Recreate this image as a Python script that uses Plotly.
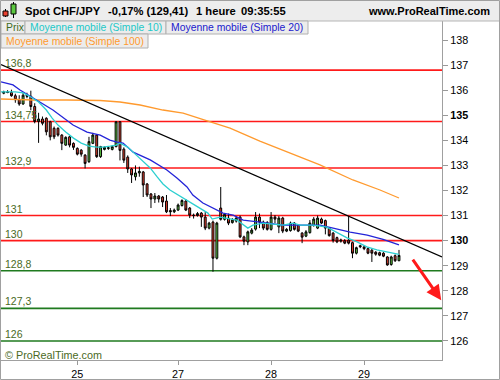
import plotly.graph_objects as go

# ---------------- data (hourly candles) ----------------
opens = [135.88, 135.93, 135.91, 135.78, 135.62, 135.45, 135.80, 135.76, 135.35, 134.75,
         134.85, 134.88, 134.74, 134.48, 134.48, 134.21, 133.81, 134.14, 133.88, 133.68,
         133.61, 133.41, 133.15, 133.88, 134.21, 133.35, 133.64, 133.68, 133.64, 133.75,
         134.74, 133.65, 133.33, 132.86, 132.55, 132.70, 132.74, 132.26, 131.86, 131.66,
         131.78, 131.74, 131.58, 131.20, 131.15, 131.22, 131.40, 131.58, 131.30, 131.02,
         131.00, 131.10, 130.94, 130.50, 130.74, 129.30, 131.30, 130.85, 130.90, 130.72,
         130.78, 130.94, 130.15, 129.95, 130.30, 130.46, 130.94, 130.74, 130.72, 130.45,
         130.94, 130.55, 130.90, 130.38, 130.40, 130.70, 130.62, 130.30, 130.18, 130.32,
         130.60, 130.50, 130.86, 130.80, 130.50, 130.30, 130.12, 129.98, 130.00, 130.02,
         129.92, 129.50, 129.80, 129.75, 129.68, 129.62, 129.54, 129.52, 129.50, 129.35,
         129.05, 129.40, 129.20]
highs = [135.98, 136.00, 136.02, 135.86, 135.80, 135.92, 135.90, 135.98, 135.48, 135.10,
         134.95, 134.92, 134.78, 134.55, 134.52, 134.25, 134.16, 134.18, 133.92, 133.72,
         133.65, 133.45, 134.14, 134.30, 134.25, 133.78, 133.76, 133.74, 133.80, 134.76,
         134.76, 133.72, 133.40, 132.90, 133.00, 132.95, 132.78, 132.30, 131.90, 131.90,
         131.82, 131.78, 131.82, 131.30, 131.28, 131.48, 131.65, 131.66, 131.34, 131.08,
         131.14, 131.14, 131.14, 130.75, 130.80, 130.75, 132.14, 131.10, 131.08, 130.90,
         130.98, 131.00, 130.20, 130.40, 130.50, 131.14, 131.08, 130.80, 130.78, 131.14,
         131.02, 130.98, 130.95, 130.50, 130.76, 130.74, 130.66, 130.34, 130.42, 130.82,
         130.94, 131.00, 130.92, 130.84, 130.54, 130.34, 130.16, 130.08, 130.06, 130.98,
         129.96, 129.76, 129.84, 129.80, 129.72, 129.66, 129.58, 129.56, 129.54, 129.38,
         129.40, 129.45, 129.63]
lows = [135.84, 135.88, 135.74, 135.50, 135.38, 135.42, 135.68, 135.20, 134.68, 133.90,
        134.60, 134.20, 134.00, 134.05, 134.15, 133.61, 133.78, 133.72, 133.62, 133.40,
        133.35, 132.88, 133.10, 133.85, 133.30, 133.30, 133.60, 133.62, 133.60, 133.72,
        133.20, 133.10, 132.70, 132.30, 132.40, 132.55, 131.74, 131.74, 131.30, 131.50,
        131.52, 131.34, 131.10, 130.98, 131.10, 131.18, 131.36, 131.18, 130.90, 130.88,
        130.96, 130.55, 130.42, 130.45, 128.76, 129.25, 130.80, 130.80, 130.62, 130.68,
        130.72, 130.10, 129.82, 129.82, 130.25, 130.40, 130.50, 130.42, 130.40, 130.40,
        130.70, 130.30, 130.30, 130.34, 130.36, 130.40, 130.34, 129.90, 130.14, 130.28,
        130.56, 130.46, 130.66, 130.25, 130.16, 129.92, 129.90, 129.92, 129.86, 129.85,
        129.30, 129.45, 129.70, 129.62, 129.46, 129.15, 129.40, 129.38, 129.34, 129.00,
        129.00, 129.15, 129.18]
closes = [135.93, 135.91, 135.78, 135.62, 135.45, 135.80, 135.76, 135.35, 134.75, 134.85,
          134.68, 134.34, 134.14, 134.14, 134.21, 133.88, 134.12, 133.81, 133.72, 133.45,
          133.45, 133.08, 133.95, 134.21, 133.35, 133.75, 133.72, 133.70, 133.75, 134.74,
          133.60, 133.21, 132.86, 132.62, 132.70, 132.76, 132.22, 131.82, 131.66, 131.78,
          131.66, 131.54, 131.15, 131.15, 131.22, 131.42, 131.60, 131.22, 131.02, 131.00,
          131.08, 130.94, 130.50, 130.70, 129.30, 130.70, 130.85, 131.05, 130.70, 130.82,
          130.90, 130.15, 129.98, 130.35, 130.42, 130.94, 130.74, 130.50, 130.45, 130.94,
          130.86, 130.90, 130.38, 130.45, 130.70, 130.45, 130.38, 130.14, 130.35, 130.70,
          130.86, 130.90, 130.70, 130.50, 130.20, 130.00, 129.95, 130.02, 129.90, 129.90,
          129.50, 129.72, 129.76, 129.68, 129.50, 129.50, 129.46, 129.42, 129.38, 129.03,
          129.35, 129.20, 129.41]
bars = list(range(len(closes)))

# moving averages (bar position, price)
sma10_x = [-0.7, 3, 5, 7, 9, 11, 12.5, 14, 16, 18, 20, 22, 24, 25.5, 27.5, 29, 30, 32, 33.4,
           35.2, 37.8, 39.6, 41.1, 42.9, 45.5, 48.1, 50.7, 52.7, 53.8, 55.8, 60.2, 63, 64.3,
           66.9, 72.1, 74.7, 76.5, 79.8, 83.4, 86, 88.6, 91.2, 93.7, 96.3, 98.9, 101, 102]
sma10_y = [135.93, 135.93, 135.89, 135.73, 135.53, 135.21, 134.89, 134.61, 134.33, 134.09,
           133.89, 133.77, 133.73, 133.73, 133.77, 133.81, 133.89, 133.73, 133.53, 133.26,
           132.90, 132.54, 132.26, 132.02, 131.78, 131.54, 131.30, 131.10, 130.86, 130.94,
           130.82, 130.50, 130.62, 130.70, 130.62, 130.70, 130.62, 130.62, 130.54, 130.34,
           130.11, 129.95, 129.75, 129.63, 129.55, 129.48, 129.45]
sma20_x = [-0.7, 2.4, 4.2, 7.6, 12.7, 17.9, 21.5, 24.9, 27.4, 29.2, 30.8, 33.4, 37.8, 42.1,
           44.7, 47.3, 48.8, 51.4, 54, 56.6, 59.2, 61.8, 66.1, 72.1, 76.5, 81.6, 85, 89.4,
           93.8, 97.9, 102]
sma20_y = [136.33, 136.21, 136.01, 135.69, 135.21, 134.61, 134.33, 134.21, 134.01, 133.93,
           133.89, 133.53, 133.22, 132.82, 132.50, 132.14, 131.82, 131.50, 131.30, 131.10,
           131.02, 130.82, 130.74, 130.62, 130.62, 130.62, 130.50, 130.34, 130.22, 130.05,
           129.83]
sma100_x = [-0.7, 7.6, 16.3, 24.9, 30, 35.2, 41.1, 46.3, 51.9, 58.4, 66.1, 73.9, 81.6,
            90.1, 97.1, 102]
sma100_y = [135.65, 135.61, 135.61, 135.59, 135.53, 135.41, 135.21, 135.09, 134.81, 134.49,
            133.97, 133.49, 133.02, 132.42, 132.02, 131.70]

trend_x = [-0.7, 113.1]
trend_y = [137.02, 129.35]

levels = [136.8, 134.75, 132.9, 131, 130, 128.8, 127.3, 126]
level_labels = ["136,8", "134,75", "132,9", "131", "130", "128,8", "127,3", "126"]
level_kinds = ["r", "r", "r", "r", "r", "g", "g", "g"]

y_ticks = [126, 127, 128, 129, 130, 131, 132, 133, 134, 135, 136, 137, 138]
y_tick_text = ["126", "127", "128", "129", "<b>130</b>", "131", "132", "133", "134",
               "<b>135</b>", "136", "137", "138"]
x_tick_pos = [19, 45, 69, 93]
x_tick_labels = ["25", "27", "28", "29"]

arrow_tail = (105.3, 129.3)
arrow_head = (112.9, 127.62)

# ---------------- styles ----------------
FONT = "Liberation Sans, Arial, sans-serif"
RED = "#ff1a1a"
GREEN_LINE = "#1f7a1f"
LABEL_GREEN = "#4a6a24"
W, H = 500, 380
L, R, T, B = 1, 58, 21, 20
PW, PH = W - L - R, H - T - B


def PX(px):
    return (px - L) / PW


def PY(py):
    return (H - B - py) / PH


fig = go.Figure()

fig.add_trace(go.Candlestick(
    x=bars, open=opens, high=highs, low=lows, close=closes,
    increasing=dict(fillcolor="#5cc840", line=dict(color="black", width=1)),
    decreasing=dict(fillcolor="#e8402f", line=dict(color="black", width=1)),
    whiskerwidth=0, hoverinfo="skip", showlegend=False))

fig.add_trace(go.Scatter(x=sma100_x, y=sma100_y, mode="lines",
                         line=dict(color="#ff9a2e", width=1.3), showlegend=False, hoverinfo="skip"))
fig.add_trace(go.Scatter(x=sma20_x, y=sma20_y, mode="lines",
                         line=dict(color="#2424d8", width=1.3), showlegend=False, hoverinfo="skip"))
fig.add_trace(go.Scatter(x=sma10_x, y=sma10_y, mode="lines",
                         line=dict(color="#2ccfd0", width=1.3), showlegend=False, hoverinfo="skip"))
fig.add_trace(go.Scatter(x=trend_x, y=trend_y, mode="lines",
                         line=dict(color="black", width=1.3), showlegend=False, hoverinfo="skip"))

shapes = []
annotations = []

# horizontal levels
for lv, lab, kind in zip(levels, level_labels, level_kinds):
    shapes.append(dict(type="line", xref="paper", yref="y", x0=0, x1=1, y0=lv, y1=lv,
                       line=dict(color=RED if kind == "r" else GREEN_LINE, width=1.6),
                       layer="below"))
    annotations.append(dict(xref="paper", yref="y", x=PX(3), y=lv, text=lab,
                            xanchor="left", yanchor="bottom", showarrow=False, yshift=-1,
                            font=dict(family=FONT, size=10.5, color=LABEL_GREEN)))

# header band
shapes.append(dict(type="rect", xref="paper", yref="paper", x0=PX(0), x1=PX(500),
                   y0=PY(21), y1=PY(0), fillcolor="#ededed", line=dict(width=0), layer="above"))
shapes.append(dict(type="line", xref="paper", yref="paper", x0=PX(0), x1=PX(500),
                   y0=PY(21), y1=PY(21), line=dict(color="#b5b5b5", width=1)))
# candle icon
shapes += [
    dict(type="line", xref="paper", yref="paper", x0=PX(5.5), x1=PX(5.5), y0=PY(17), y1=PY(9),
         line=dict(color="black", width=1)),
    dict(type="rect", xref="paper", yref="paper", x0=PX(3), x1=PX(8), y0=PY(16), y1=PY(11),
         fillcolor="#e8402f", line=dict(color="black", width=1)),
    dict(type="line", xref="paper", yref="paper", x0=PX(13.5), x1=PX(13.5), y0=PY(18), y1=PY(2),
         line=dict(color="black", width=1)),
    dict(type="rect", xref="paper", yref="paper", x0=PX(11), x1=PX(16), y0=PY(14), y1=PY(4),
         fillcolor="#5cc840", line=dict(color="black", width=1)),
]
header_parts = [(23, "Spot CHF/JPY"), (106, "-0,17% (129,41)"), (194, "1 heure"), (239, "09:35:55")]
for xp, txt in header_parts:
    annotations.append(dict(xref="paper", yref="paper", x=PX(xp), y=PY(10.5), text="<b>%s</b>" % txt,
                            xanchor="left", yanchor="middle", showarrow=False,
                            font=dict(family=FONT, size=11.2, color="black")))
annotations.append(dict(xref="paper", yref="paper", x=PX(492), y=PY(10.5),
                        text="<b>www.ProRealTime.com</b>", xanchor="right", yanchor="middle",
                        showarrow=False, font=dict(family=FONT, size=11, color="black")))

# legend boxes
legend_boxes = [(1, 25, 21, 34, "Prix", "#3d6b1c"),
                (25, 166, 21, 34, "Moyenne mobile (Simple 10)", "#22c8c8"),
                (166, 308, 21, 34, "Moyenne mobile (Simple 20)", "#2020cc"),
                (1, 148, 34, 48, "Moyenne mobile (Simple 100)", "#ff9a2e")]
for x0, x1, y0, y1, txt, col in legend_boxes:
    shapes.append(dict(type="rect", xref="paper", yref="paper", x0=PX(x0), x1=PX(x1),
                       y0=PY(y1), y1=PY(y0), fillcolor="#ececec",
                       line=dict(color="#b0b0b0", width=1), layer="above"))
    annotations.append(dict(xref="paper", yref="paper", x=PX(x0 + 2.5), y=PY((y0 + y1) / 2 + 0.5),
                            text=txt, xanchor="left", yanchor="middle", showarrow=False,
                            font=dict(family=FONT, size=10.4, color=col)))

# copyright
annotations.append(dict(xref="paper", yref="paper", x=PX(3), y=PY(355), text="© ProRealTime.com",
                        xanchor="left", yanchor="middle", showarrow=False,
                        font=dict(family=FONT, size=10.8, color=LABEL_GREEN)))

# red arrow
annotations.append(dict(x=arrow_head[0], y=arrow_head[1], ax=arrow_tail[0], ay=arrow_tail[1],
                        xref="x", yref="y", axref="x", ayref="y", showarrow=True, text="",
                        arrowhead=2, arrowsize=1, arrowwidth=3, arrowcolor="#ff1a1a"))

# outer frame
shapes.append(dict(type="rect", xref="paper", yref="paper", x0=PX(0.5), x1=PX(499.5),
                   y0=PY(379.5), y1=PY(0.5), line=dict(color="#a0a0a0", width=1)))

fig.update_layout(
    width=W, height=H, margin=dict(l=L, r=R, t=T, b=B, pad=0),
    paper_bgcolor="white", plot_bgcolor="white",
    shapes=shapes, annotations=annotations, showlegend=False,
    xaxis=dict(range=[-0.7, 113.1], tickvals=x_tick_pos, ticktext=x_tick_labels,
               ticks="outside", ticklen=4, tickcolor="#999", showgrid=False, zeroline=False,
               showline=True, linecolor="#a0a0a0", linewidth=1, mirror=True,
               rangeslider=dict(visible=False),
               tickfont=dict(family=FONT, size=10.8, color="black")),
    yaxis=dict(side="right", range=[125.24, 138.76], tickvals=y_ticks, ticktext=y_tick_text,
               ticks="outside", ticklen=5, tickcolor="#999", showgrid=False, zeroline=False,
               showline=True, linecolor="#a0a0a0", linewidth=1, mirror=True,
               tickfont=dict(family=FONT, size=10.8, color="black")),
)

fig.write_html("out.html")
